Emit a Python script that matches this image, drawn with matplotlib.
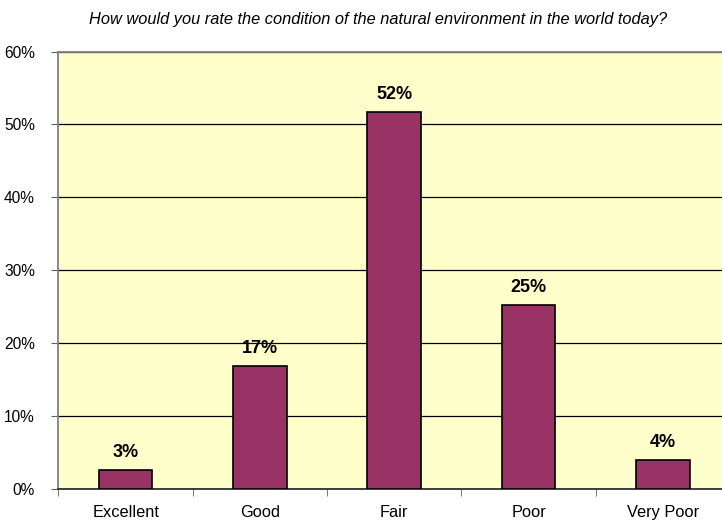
import matplotlib
matplotlib.use("Agg")
import matplotlib.pyplot as plt
import numpy as np
from matplotlib.ticker import FuncFormatter, MultipleLocator

categories = ["Excellent", "Good", "Fair", "Poor", "Very Poor"]
shares = [2.6, 16.8, 51.7, 25.2, 4.0]
labels = ["3%", "17%", "52%", "25%", "4%"]

plt.rcParams["font.family"] = ["Liberation Sans", "DejaVu Sans"]

fig = plt.figure(figsize=(7.22, 5.21), dpi=100)
ax = fig.add_axes([0.081, 0.062, 0.930, 0.839])
ax.set_facecolor("#FFFFCC")

x = np.arange(len(categories))
ax.bar(x, shares, width=0.40, color="#993366", edgecolor="black", lw=1.2, zorder=3)
for xi, v, lab in zip(x, shares, labels):
    ax.annotate(lab, (xi, v), xytext=(0, 9), textcoords="offset pixels",
                ha="center", va="bottom", fontsize=13, fontweight="bold", zorder=4)

ax.set_xlim(-0.5, len(categories) - 0.5)
ax.set_ylim(0, 60)
ax.yaxis.set_major_locator(MultipleLocator(10))
ax.yaxis.set_major_formatter(FuncFormatter(lambda v, _: f"{v:.0f}%"))
ax.grid(axis="y", color="black", lw=0.9, zorder=1)

ax.set_xticks(x)
ax.set_xticklabels(categories)
ax.set_xticks(np.arange(len(categories) + 1) - 0.5, minor=True)
ax.tick_params(axis="x", which="major", length=0, pad=11.5, labelsize=11.8)
ax.tick_params(axis="x", which="minor", length=5, color="#606060")
ax.tick_params(axis="y", length=5, color="#606060", pad=12, labelsize=11.2)

ax.spines["right"].set_visible(False)
ax.spines["left"].set_color("#808080")
ax.spines["top"].set_color("#808080")
ax.spines["bottom"].set_color("#303030")
for s in ["left", "top", "bottom"]:
    ax.spines[s].set_linewidth(1.3)

fig.text(0.524, 0.963, "How would you rate the condition of the natural environment in the world today?",
         ha="center", va="center", fontsize=11.8, style="italic")

fig.savefig("out.png", dpi=100)
